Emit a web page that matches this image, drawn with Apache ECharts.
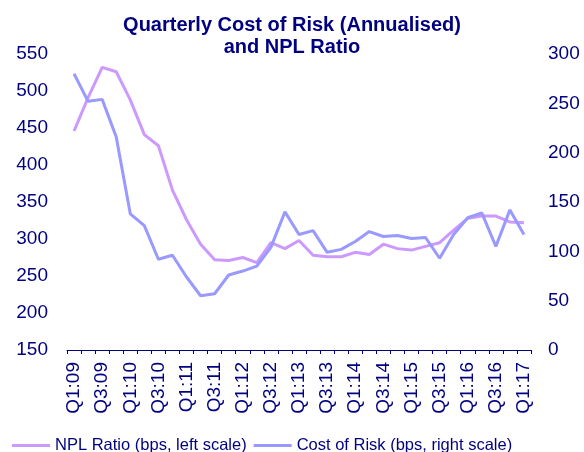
<!DOCTYPE html>
<html>
<head>
<meta charset="utf-8">
<script src="https://cdn.jsdelivr.net/npm/echarts@6/dist/echarts.min.js"></script>
<style>
  html, body { margin: 0; padding: 0; background: #fff; }
  #chart { width: 584px; height: 452px; }
</style>
</head>
<body>
<div id="chart"></div>
<script>
// quarters Q1:09 .. Q1:17
const quarters = [
  'Q1:09','Q2:09','Q3:09','Q4:09','Q1:10','Q2:10','Q3:10','Q4:10',
  'Q1:11','Q2:11','Q3:11','Q4:11','Q1:12','Q2:12','Q3:12','Q4:12',
  'Q1:13','Q2:13','Q3:13','Q4:13','Q1:14','Q2:14','Q3:14','Q4:14',
  'Q1:15','Q2:15','Q3:15','Q4:15','Q1:16','Q2:16','Q3:16','Q4:16',
  'Q1:17'
];

// NPL ratio, bps (left scale)
const nplRatio = [446, 491, 532, 526, 488, 441, 426, 366, 326, 293, 272, 271, 275, 268, 295, 287,
  298, 278, 276, 276, 282, 279, 293, 287, 285, 290, 295, 312, 328, 331, 331, 323, 322];

// cost of risk, bps (right scale)
const costOfRisk = [280, 252, 254, 216, 138, 126, 92, 96, 74, 55, 57, 76, 80, 85, 104, 140,
  117, 121, 99, 102, 110, 120, 115, 116, 113, 114, 93, 117, 134, 139, 105, 142, 117];

const navy = '#000080';
const font = 'Liberation Sans, Arial, sans-serif';

const chart = echarts.init(document.getElementById('chart'));
chart.setOption({
  animation: false,
  backgroundColor: '#fff',
  textStyle: { fontFamily: font, color: navy },
  title: {
    text: 'Quarterly Cost of Risk (Annualised)\nand NPL Ratio',
    left: 'center',
    top: 9,
    textStyle: { fontFamily: font, fontSize: 20, fontWeight: 'bold', color: navy, lineHeight: 22 }
  },
  legend: {
    left: 7,
    top: 432,
    icon: 'rect',
    itemWidth: 38,
    itemHeight: 3,
    itemGap: 7,
    textStyle: { fontFamily: font, fontSize: 16.5, color: navy }
  },
  grid: { left: 67, right: 53, top: 54, bottom: 102 },
  xAxis: {
    type: 'category',
    data: quarters,
    boundaryGap: true,
    axisLine: { lineStyle: { color: navy, width: 1 } },
    axisTick: { show: true, length: 4, interval: 0, lineStyle: { color: navy } },
    axisLabel: { rotate: 90, interval: 1, margin: 12, fontSize: 19, color: navy, fontFamily: font }
  },
  yAxis: [
    {
      type: 'value',
      min: 150, max: 550, interval: 50,
      axisLine: { show: false },
      axisTick: { show: false },
      splitLine: { show: false },
      axisLabel: { fontSize: 19, color: navy, fontFamily: font, margin: 19 }
    },
    {
      type: 'value',
      min: 0, max: 300, interval: 50,
      axisLine: { show: false },
      axisTick: { show: false },
      splitLine: { show: false },
      axisLabel: { fontSize: 19, color: navy, fontFamily: font, margin: 17 }
    }
  ],
  series: [
    {
      name: 'NPL Ratio (bps, left scale)',
      type: 'line',
      yAxisIndex: 0,
      data: nplRatio,
      showSymbol: false,
      color: '#CC99FF',
      lineStyle: { color: '#CC99FF', width: 3 }
    },
    {
      name: 'Cost of Risk (bps, right scale)',
      type: 'line',
      yAxisIndex: 1,
      data: costOfRisk,
      showSymbol: false,
      color: '#9999FF',
      lineStyle: { color: '#9999FF', width: 3 }
    }
  ]
});
</script>
</body>
</html>
